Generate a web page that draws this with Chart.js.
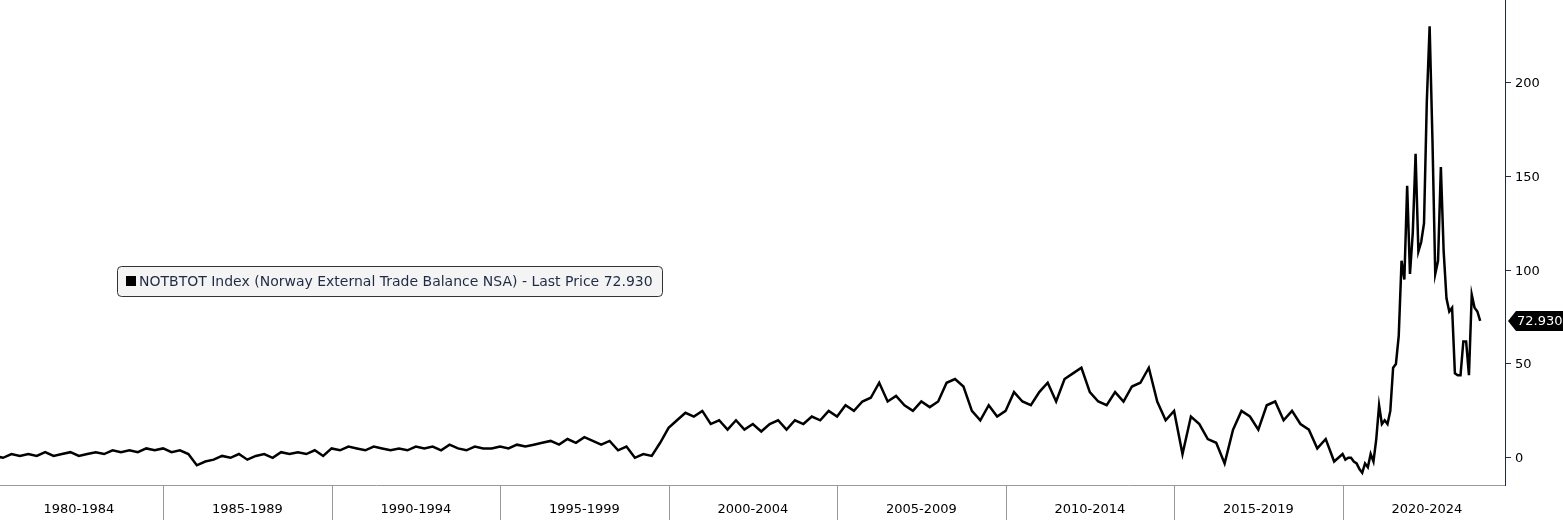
<!DOCTYPE html>
<html>
<head>
<meta charset="utf-8">
<script src="https://cdn.jsdelivr.net/npm/chart.js@4"></script>
<style>
  body { margin: 0; background: #fff; }
  #wrap { width: 1563px; height: 520px; }
</style>
</head>
<body>
<div id="wrap"><canvas id="grafico"></canvas></div>
<script>
// quarterly values 1980-2019
const anosTrimestrais = [];
for (let a = 1980; a <= 2019; a++) anosTrimestrais.push(a);
const valoresTrimestrais = [
  1,0,2,1, 2,1,3,1, 2,3,1,2, 3,2,4,3, 4,3,5,4,
  5,3,4,2, -4,-2,-1,1, 0,2,-1,1, 2,0,3,2, 3,2,4,1,
  5,4,6,5, 4,6,5,4, 5,4,6,5, 6,4,7,5, 4,6,5,5,
  6,5,7,6, 7,8,9,7, 10,8,11,9, 7,9,4,6, 0,2,1,8,
  16,20,24,22, 25,18,20,15, 20,15,18,14, 18,20,15,20, 18,22,20,25,
  22,28,25,30, 32,40,30,33, 28,25,30,27, 30,40,42,38, 25,20,28,22,
  25,35,30,28, 35,40,30,42, 45,48,35,30, 28,35,30,38, 40,48,30,20,
  25,2,22,18, 10,8,-3,15, 25,22,15,28, 30,20,25,18, 15,5,10,-2
];
// monthly values from Jan 2020
const valoresMensais = [
  2,-1,0,0,-2,-3,-6,-8,-3,-5,2,-2,
  10,28,18,20,18,25,48,50,65,105,95,145,
  98,120,162,110,115,125,190,230,170,98,105,155,
  110,85,78,80,45,44,44,62,62,44,87,80,
  78,72.93
];
const rotulosX = ['1980-1984','1985-1989','1990-1994','1995-1999','2000-2004','2005-2009','2010-2014','2015-2019','2020-2024'];
const ticksY = [0, 50, 100, 150, 200];
const ultimoPreco = 72.93;

const pontos = [];
valoresTrimestrais.forEach((v, i) => {
  pontos.push({ x: anosTrimestrais[Math.floor(i / 4)] + (i % 4) * 0.25, y: v });
});
valoresMensais.forEach((v, i) => pontos.push({ x: 2020 + i / 12, y: v }));

const fonte = '"DejaVu Sans", sans-serif';

const extras = {
  id: 'extras',
  afterDraw(chart) {
    const ctx = chart.ctx;
    const xs = chart.scales.x, ys = chart.scales.y;
    const area = chart.chartArea;
    ctx.save();
    // separators and band labels
    ctx.strokeStyle = '#999';
    ctx.lineWidth = 1;
    ctx.fillStyle = '#000';
    ctx.font = '13px ' + fonte;
    ctx.textAlign = 'center';
    ctx.textBaseline = 'middle';
    rotulosX.forEach((r, i) => {
      const a = 1980 + i * 5;
      const px = Math.round(xs.getPixelForValue(a)) + 0.5;
      if (i > 0) {
        ctx.beginPath(); ctx.moveTo(px, area.bottom); ctx.lineTo(px, 520); ctx.stroke();
      }
      ctx.fillText(r, xs.getPixelForValue(a + 2.5), 510);
    });
    // y labels
    ctx.textAlign = 'left';
    ticksY.forEach(v => ctx.fillText(String(v), area.right + 10, ys.getPixelForValue(v) + 1));
    // legend box
    const bx = 117.5, by = 266.5, bw = 545, bh = 30;
    ctx.beginPath();
    ctx.roundRect(bx, by, bw, bh, 4);
    ctx.fillStyle = '#f4f4f4';
    ctx.fill();
    ctx.strokeStyle = '#333';
    ctx.stroke();
    ctx.fillStyle = '#000';
    ctx.fillRect(126, 276, 10, 10);
    ctx.fillStyle = '#1f2a44';
    ctx.font = '14px ' + fonte;
    ctx.fillText('NOTBTOT Index (Norway External Trade Balance NSA) - Last Price 72.930', 139, 282);
    // last price tag
    const py = ys.getPixelForValue(ultimoPreco);
    const lx = area.right + 3;
    ctx.beginPath();
    ctx.moveTo(lx, py);
    ctx.lineTo(lx + 8, py - 10);
    ctx.lineTo(1563, py - 10);
    ctx.lineTo(1563, py + 10);
    ctx.lineTo(lx + 8, py + 10);
    ctx.closePath();
    ctx.fillStyle = '#000';
    ctx.fill();
    ctx.fillStyle = '#fff';
    ctx.font = '13px ' + fonte;
    ctx.fillText('72.930', lx + 9, py + 1);
    ctx.restore();
  }
};

new Chart(document.getElementById('grafico'), {
  type: 'line',
  data: {
    datasets: [{
      data: pontos,
      borderColor: '#000',
      borderWidth: 2.5,
      pointRadius: 0,
      tension: 0
    }]
  },
  options: {
    responsive: true,
    maintainAspectRatio: false,
    animation: false,
    layout: { padding: { left: 0, right: 0, top: 0, bottom: 35 } },
    plugins: { legend: { display: false }, tooltip: { enabled: false } },
    scales: {
      x: {
        type: 'linear',
        min: 1980.16,
        max: 2024.82,
        grid: { display: false },
        border: { display: true, color: '#999' },
        ticks: { display: false },
        afterFit: (s) => { s.height = 0; }
      },
      y: {
        position: 'right',
        min: -14.5,
        max: 244,
        afterBuildTicks: (s) => { s.ticks = ticksY.map(v => ({ value: v })); },
        grid: { drawOnChartArea: false, tickLength: 6, color: '#1f2a44' },
        border: { display: true, color: '#1f2a44' },
        ticks: { display: false },
        afterFit: (s) => { s.width = 58; }
      }
    }
  },
  plugins: [extras]
});
</script>
</body>
</html>
